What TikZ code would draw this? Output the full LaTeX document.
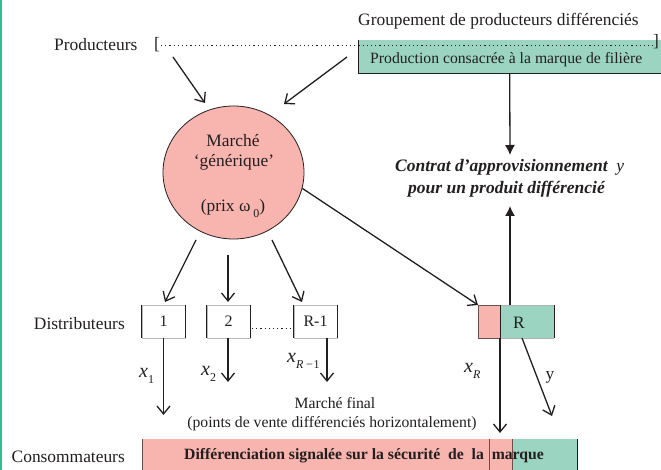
\documentclass[tikz,border=0pt]{standalone}
\usepackage{fontspec}
\setmainfont{Liberation Serif}
\usetikzlibrary{arrows.meta,shapes.geometric}
\definecolor{pinkf}{HTML}{F8B4AE}
\definecolor{greenf}{HTML}{9BD5C1}
\definecolor{edgegreen}{HTML}{2DBF8F}
\definecolor{ink}{HTML}{231F20}
\definecolor{brn}{HTML}{6E4E4C}
\newcommand{\mysub}[1]{\raisebox{-0.3em}{\fontsize{12}{12}\selectfont #1}}
\begin{document}
\begin{tikzpicture}[x=1pt,y=-1pt,
  lbl/.style={inner sep=0pt, text=ink, font=\fontsize{17.4}{20}\selectfont},
  sm/.style={inner sep=0pt, text=ink, font=\fontsize{15.7}{18}\selectfont},
  var/.style={inner sep=0pt, text=ink, font=\fontsize{20}{22}\selectfont\itshape},
  bi/.style={inner sep=0pt, text=ink, font=\fontsize{17.5}{20}\selectfont\bfseries\itshape},
  openarr/.style={draw=ink, line width=1.3pt, -{Straight Barb[length=8pt,width=13pt]}},
  fillarr/.style={draw=ink, line width=1.3pt, -{Latex[length=10pt,width=10pt]}},
  plain/.style={draw=ink, line width=1.3pt},
  side/.style={draw=ink, line width=1pt},
  dbox/.style={draw=gray!55, line width=0.6pt, minimum width=43pt, minimum height=33pt, inner sep=0pt, text=ink, font=\fontsize{16}{18}\selectfont},
]
\useasboundingbox (0,0) rectangle (661,470);
\fill[white] (0,0) rectangle (661,470);
\draw[edgegreen, line width=1.5pt] (0.75,0) -- (0.75,470);

% producers row
\node[lbl, anchor=base west] (prod) at (54,51) {Producteurs};
\node[lbl, anchor=base] (brL) at (157,50) {[};
\node[lbl, anchor=base west] (grp) at (358,26) {Groupement de producteurs différenciés};
\node[fill=greenf, minimum width=303pt, minimum height=33pt, anchor=north west, inner sep=0pt] (gbox) at (358,40) {};
\draw[side] (gbox.north west) -- (gbox.south west) -- (gbox.south east);
\node[lbl, anchor=base] (brR) at (656,47) {]};
\node[sm, anchor=base west] (gtext) at (370,64) {Production consacrée à la marque de filière};
\coordinate (dl) at (161,45);
\coordinate (dr) at (653,45);
\draw[ink, line width=0.7pt, dash pattern=on 1.2pt off 3pt] (dl) -- (dr);

% market circle
\node[ellipse, fill=pinkf, draw=ink, line width=0.8pt, minimum width=141pt, minimum height=133pt, inner sep=0pt] (mkt) at (233.5,172.5) {};
\node[lbl, anchor=base] (m1t) at (233,147) {Marché};
\node[lbl, anchor=base] (m2t) at (234,167) {‘générique’};
\node[lbl, anchor=base] (m3t) at (233,212) {(prix ω\,\mysub{0})};

\coordinate (p1s) at (173,57);
\coordinate (p1e) at (205,103);
\coordinate (p2s) at (347,57);
\coordinate (p2e) at (284,104);
\draw[openarr] (p1s) -- (p1e);
\draw[openarr] (p2s) -- (p2e);

% contract
\node[bi, anchor=base west] (c1) at (395,172) {Contrat d’approvisionnement\ \ {\mdseries y}};
\node[bi, anchor=base west] (c2) at (408,194) {pour un produit différencié};
\coordinate (cA) at (510,155);
\coordinate (cB) at (510,206);
\coordinate (rt) at (510,305);
\draw[fillarr] (gbox.south) -- (cA);
\draw[fillarr] (rt) -- (cB);

% distributors
\node[lbl, anchor=base east] (dist) at (125,329) {Distributeurs};
\node[dbox] (d1) at (163.5,321.5) {1};
\node[dbox] (d2) at (228.5,321.5) {2};
\node[dbox] (d3) at (315.5,321.5) {R-1};
\foreach \b in {d1,d2,d3}{
  \draw[side] (\b.north west) -- (\b.south west) (\b.north east) -- (\b.south east);
}
\coordinate (dd1) at (252,328);
\coordinate (dd2) at (292,328);
\draw[ink, line width=0.7pt, dash pattern=on 1.2pt off 3pt] (dd1) -- (dd2);

\coordinate (m1) at (196,240);
\coordinate (m2) at (228,255);
\coordinate (m3) at (272,240);
\coordinate (d1t) at (165,302);
\coordinate (d2t) at (228,302);
\coordinate (d3t) at (302,302);
\draw[openarr] (m1) -- (d1t);
\draw[openarr] (m2) -- (d2t);
\draw[openarr] (m3) -- (d3t);

% R box
\node[fill=pinkf, draw=brn, line width=0.6pt, minimum width=22pt, minimum height=33pt, inner sep=0pt, anchor=north west] (Rp) at (478,305) {};
\node[fill=greenf, minimum width=54pt, minimum height=33pt, inner sep=0pt, anchor=north west] (Rg) at (500,305) {};
\draw[gray!60, line width=0.5pt] (Rg.north west) -- (Rg.north east) (Rg.south west) -- (Rg.south east);
\draw[side] (Rg.north west) -- (Rg.south west) (Rg.north east) -- (Rg.south east);
\node[lbl, anchor=base] (Rl) at (519,328) {R};
\draw[openarr] (mkt.347) -- (Rp.north west);

% flows down
\coordinate (x1e) at (163.5,415);
\coordinate (x2s) at (228,338);
\coordinate (x2e) at (228,382);
\coordinate (x3s) at (327,338);
\coordinate (x3e) at (327,382);
\coordinate (xRe) at (500,433);
\coordinate (ys) at (522,338);
\coordinate (ye) at (552,416);
\draw[openarr] (d1.south) -- (x1e);
\draw[openarr] (x2s) -- (x2e);
\draw[openarr] (x3s) -- (x3e);
\draw[openarr] (Rg.south west) -- (xRe);
\draw[openarr] (ys) -- (ye);

\node[var, anchor=base west] (lx1) at (139,377) {x\mysub{\upshape 1}};
\node[var, anchor=base west] (lx2) at (201,375) {x\mysub{\upshape 2}};
\node[var, anchor=base west] (lx3) at (287,362) {x\mysub{R\,−\upshape 1}};
\node[var, anchor=base west] (lxR) at (464,372) {x\mysub{R}};
\node[lbl, anchor=base] (ly) at (550,379) {y};

% final market
\node[sm, anchor=base] (mf1) at (335,408) {Marché final};
\node[sm, anchor=base] (mf2) at (332,427) {(points de vente différenciés horizontalement)};

% consumers
\node[lbl, anchor=base east] (cons) at (125,462) {Consommateurs};
\node[fill=pinkf, anchor=north west, minimum width=370pt, minimum height=35pt, inner sep=0pt] (bp) at (142,439) {};
\node[fill=greenf, anchor=north west, minimum width=65pt, minimum height=35pt, inner sep=0pt] (bg) at (512,439) {};
\draw[brn, line width=1pt] (bp.north west) -- (bp.south west);
\coordinate (bm1) at (489,439);
\coordinate (bm2) at (489,474);
\draw[brn, line width=1pt] (bm1) -- (bm2);
\draw[brn, line width=0.8pt] (bg.north west) -- (bg.south west);
\draw[side] (bg.north east) -- (bg.south east);
\node[inner sep=0pt, text=ink, font=\fontsize{15.7}{18}\selectfont\bfseries, anchor=base west] (btext) at (184,459) {Différenciation signalée sur la sécurité\ \ de\ \ la\ \ marque};
\end{tikzpicture}
\end{document}
